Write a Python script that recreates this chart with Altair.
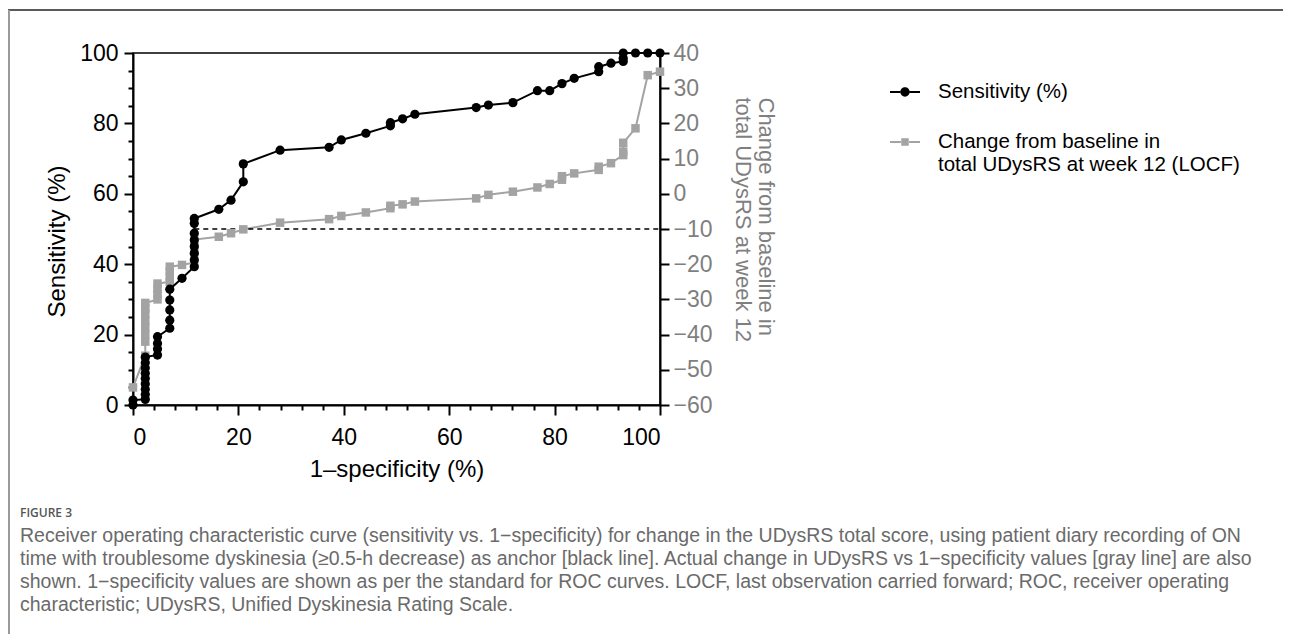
import altair as alt
import pandas as pd

# ---------------- data ----------------
SENS_X = [0, 0,
          2.33, 2.33, 2.33, 2.33, 2.33, 2.33, 2.33, 2.33, 2.33,
          4.65, 4.65, 4.65, 4.65,
          6.98, 6.98, 6.98, 6.98, 6.98,
          9.30,
          11.63, 11.63, 11.63, 11.63, 11.63, 11.63, 11.63, 11.63,
          16.28, 18.60, 20.93, 20.93, 27.91, 37.21, 39.53, 44.19,
          48.84, 48.84, 51.16, 53.49, 65.12, 67.44, 72.09, 76.74,
          79.07, 81.40, 83.72, 88.37, 88.37, 90.70, 93.02, 93.02, 93.02,
          95.35, 97.67, 100]
SENS_Y = [0.0, 1.4,
          1.6, 3.0, 4.5, 6.0, 7.5, 9.0, 10.5, 12.0, 13.6,
          14.2, 15.9, 17.5, 19.4,
          21.8, 24.1, 27.0, 29.8, 32.9,
          36.0,
          39.3, 41.2, 43.1, 45.0, 46.9, 48.8, 51.6, 53.0,
          55.6, 58.2, 63.4, 68.5, 72.4, 73.2, 75.3, 77.2,
          79.3, 80.2, 81.3, 82.6, 84.5, 85.2, 85.9, 89.3,
          89.3, 91.3, 92.8, 94.7, 96.1, 97.1, 97.6, 98.5, 100,
          100, 100, 100]

CHG_X = [0,
         2.33, 2.33, 2.33, 2.33, 2.33, 2.33, 2.33, 2.33,
         4.65, 4.65, 4.65, 4.65,
         6.98, 6.98, 6.98, 6.98,
         9.30,
         11.63, 11.63, 11.63, 11.63,
         16.28, 18.60, 20.93, 27.91, 37.21, 39.53, 44.19,
         48.84, 48.84, 51.16, 53.49, 65.12, 67.44, 72.09, 76.74,
         79.07, 81.40, 81.40, 83.72, 88.37, 88.37, 90.70,
         93.02, 93.02, 93.02, 95.35, 97.67, 100]
CHG_Y = [-55,
         -46, -42, -40, -38, -36, -34, -32.5, -31,
         -30, -28.5, -27, -25.5,
         -25, -23.5, -22, -20.7,
         -20.2,
         -19.5, -17, -15, -13,
         -12.2, -11.2, -10.1, -8.2, -7.2, -6.3, -5.3,
         -4.1, -3.4, -3.0, -2.2, -1.3, -0.3, 0.6, 1.8,
         2.8, 4.0, 5.0, 5.8, 6.8, 7.7, 8.7,
         11.0, 12.0, 14.5, 18.6, 33.7, 34.7]

THRESHOLD = -10
THRESHOLD_X = [11.63, 100]

SERIES = ["Sensitivity (%)",
          "Change from baseline in|total UDysRS at week 12 (LOCF)"]
SERIES_COLORS = ["#000000", "#a3a3a3"]

X_TICKS = list(range(0, 101, 4))
Y_TICKS = list(range(0, 101, 5))
Y2_TICKS = list(range(-60, 41, 10))

X_TITLE = "1\u2013specificity (%)"
Y_TITLE = "Sensitivity (%)"
Y2_TITLE = ["Change from baseline in", "total UDysRS at week 12"]

CAPTION_HEAD = "FIGURE 3"
CAPTION_LINES = [
    "Receiver operating characteristic curve (sensitivity vs. 1\u2212specificity) for change in the UDysRS total score, using patient diary recording of ON",
    "time with troublesome dyskinesia (\u22650.5-h decrease) as anchor [black line]. Actual change in UDysRS vs 1\u2212specificity values [gray line] are also",
    "shown. 1\u2212specificity values are shown as per the standard for ROC curves. LOCF, last observation carried forward; ROC, receiver operating",
    "characteristic; UDysRS, Unified Dyskinesia Rating Scale.",
]

# ---------------- frames ----------------
df_s = pd.DataFrame({"x": SENS_X, "y": SENS_Y, "i": range(len(SENS_X)), "series": SERIES[0]})
df_c = pd.DataFrame({"x": CHG_X, "y": CHG_Y, "i": range(len(CHG_X)), "series": SERIES[1]})
df_all = pd.concat([df_s, df_c], ignore_index=True)
df_thr = pd.DataFrame({"x": [THRESHOLD_X[0]], "x2": [THRESHOLD_X[1]], "y": [THRESHOLD]})
df_one = pd.DataFrame({"k": [0]})

FONT = "Liberation Sans"
CAP_FONT = "Liberation Sans"
GRAY_TXT = "#7f7f7f"

W, H = 527, 352

major20 = "datum.value % 20 === 0"

X = alt.X("x:Q", scale=alt.Scale(domain=[0, 100], nice=False, zero=False),
          axis=alt.Axis(values=X_TICKS, title=X_TITLE,
                        labelExpr=f"{major20} ? datum.label : ''",
                        tickSize={"condition": {"test": major20, "value": 10}, "value": 5},
                        labelPadding=11, titlePadding=8))
X2 = alt.X2("x2:Q")

Y_L = alt.Y("y:Q", scale=alt.Scale(domain=[0, 100], nice=False, zero=False),
            axis=alt.Axis(orient="left", values=Y_TICKS, title=Y_TITLE,
                          labelExpr=f"{major20} ? datum.label : ''",
                          tickSize={"condition": {"test": major20, "value": 9}, "value": 5},
                          labelPadding=6, titlePadding=10, titleY=188))

Y_R = alt.Y("y:Q", scale=alt.Scale(domain=[-60, 40], nice=False, zero=False),
            axis=alt.Axis(orient="right", values=Y2_TICKS, title=Y2_TITLE,
                          tickSize=9, labelColor=GRAY_TXT, titleColor=GRAY_TXT,
                          titleAngle=90, titleAlign="left", titleBaseline="middle",
                          titleX=105, titleY=44, labelPadding=4,
                          titleFontSize=22, titleLineHeight=23))

PATH_CIRCLE = ("M-1,-0.07H-0.3V0.07H-1Z M0.3,-0.07H1V0.07H0.3Z "
               "M-0.31,0A0.31,0.31 0 1,0 0.31,0A0.31,0.31 0 1,0 -0.31,0Z")
PATH_SQUARE = ("M-1,-0.07H-0.27V0.07H-1Z M0.27,-0.07H1V0.07H0.27Z "
               "M-0.25,-0.25H0.25V0.25H-0.25Z")

LEG = alt.Legend(title=None, orient="none", legendX=757, legendY=24,
                 labelExpr="split(datum.label, '|')", labelFont=FONT,
                 labelFontSize=20.5, labelColor="black", labelOffset=18,
                 symbolSize=900, symbolStrokeWidth=0, rowPadding=24,
                 labelLimit=600, padding=0)

# ---------------- gray (right axis) group ----------------
gray_line = alt.Chart(df_c).mark_line(color=SERIES_COLORS[1], strokeWidth=2).encode(
    x=X, y=Y_R, order="i:Q")
gray_pts = alt.Chart(df_c).mark_point(shape="square", filled=True, color=SERIES_COLORS[1],
                                      size=72, opacity=1).encode(x=X, y=Y_R)
thr = alt.Chart(df_thr).mark_rule(color="black", strokeWidth=1.6, strokeDash=[5, 4]).encode(
    x=X, x2=X2, y=Y_R)
gray_group = alt.layer(gray_line, thr, gray_pts)

# ---------------- black (left axis) group ----------------
black_line = alt.Chart(df_s).mark_line(color="black", strokeWidth=2).encode(
    x=X, y=Y_L, order="i:Q")
black_pts = alt.Chart(df_s).mark_point(shape="circle", filled=True, color="black",
                                       size=85, opacity=1).encode(x=X, y=Y_L)
legend_layer = alt.Chart(df_all).mark_point(filled=True, opacity=1).encode(
    x=X, y=Y_L,
    color=alt.Color("series:N", scale=alt.Scale(domain=SERIES, range=SERIES_COLORS), legend=LEG),
    shape=alt.Shape("series:N", scale=alt.Scale(domain=SERIES, range=[PATH_CIRCLE, PATH_SQUARE]),
                    legend=LEG),
).transform_filter("false")

# ---------------- decoration: page frame and caption ----------------
frame_top = alt.Chart(df_one).mark_rule(color="#5a5a5a", strokeWidth=2).encode(
    x=alt.value(-125), x2=alt.value(1150), y=alt.value(-43))
frame_left = alt.Chart(df_one).mark_rule(color="#9a9a9a", strokeWidth=2).encode(
    x=alt.value(-124), y=alt.value(-43), y2=alt.value(581))
cap_head = alt.Chart(df_one).mark_text(align="left", baseline="middle", font="Open Sans",
                                       fontSize=12, fontWeight=600, color="#555555").encode(
    x=alt.value(-113), y=alt.value(460), text=alt.value(CAPTION_HEAD))
cap_body = alt.Chart(df_one).mark_text(align="left", baseline="middle", font=CAP_FONT,
                                       fontSize=19.5, color="#6a6a6a", lineHeight=23).encode(
    x=alt.value(-113), y=alt.value(483), text=alt.value(CAPTION_LINES))

black_group = alt.layer(black_line, black_pts, legend_layer, frame_top, frame_left,
                        cap_head, cap_body)

chart = alt.layer(gray_group, black_group).resolve_scale(y="independent").properties(
    width=W, height=H,
    padding={"left": 125, "top": 45, "right": 623, "bottom": 229},
    autosize=alt.AutoSizeParams(type="none"),
).configure_view(stroke="black", strokeWidth=1.5).configure_axis(
    domainColor="black", domainWidth=2, tickColor="black", tickWidth=2,
    labelFont=FONT, labelFontSize=23, labelColor="black",
    titleFont=FONT, titleFontSize=24, titleFontWeight="normal", titleColor="black",
    grid=False,
).configure_axisRight(labelColor=GRAY_TXT, titleColor=GRAY_TXT)

chart.save("out.html", embed_options={"renderer": "svg", "actions": False})
